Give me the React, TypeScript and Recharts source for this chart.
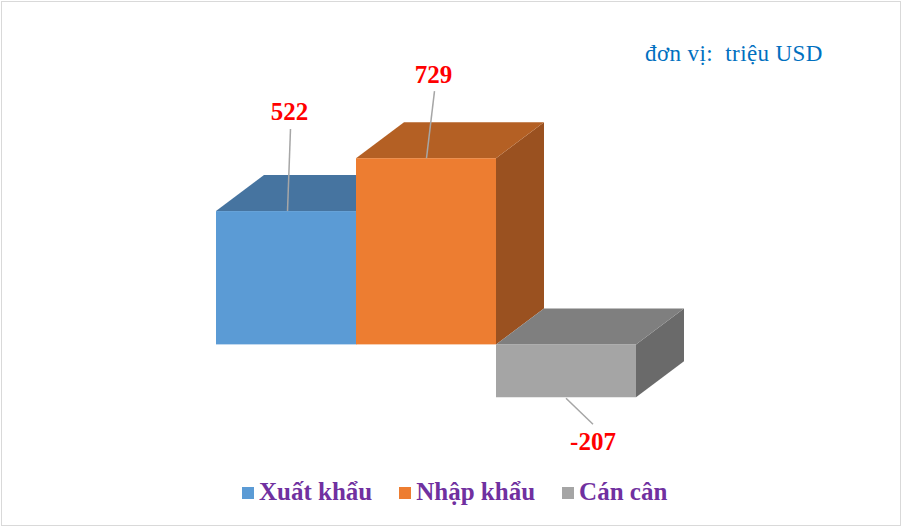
import { Bar, BarChart, LabelList, XAxis, YAxis } from 'recharts'

const CATEGORIES = ['']
const SERIES_KEYS = ['xuat', 'nhap', 'can']
const SERIES_NAMES = ['Xuất khẩu', 'Nhập khẩu', 'Cán cân']
const XUAT_KHAU = [522]
const NHAP_KHAU = [729]
const CAN_CAN = [-207]
const UNIT_TEXT = 'đơn vị:  triệu USD'

const chartData = CATEGORIES.map((c, i) => ({
  name: c,
  xuat: XUAT_KHAU[i],
  nhap: NHAP_KHAU[i],
  can: CAN_CAN[i],
}))

// front / top / side faces
const COLORS = [
  { front: '#5B9BD5', top: '#4674A0', side: '#3F6A93' },
  { front: '#ED7D31', top: '#B46024', side: '#9A5120' },
  { front: '#A5A5A5', top: '#7F7F7F', side: '#6A6A6A' },
]

const DEPTH_X = 48
const DEPTH_Y = 36
const SERIF = '"Liberation Serif", "Times New Roman", serif'

// leader line + label offsets from the bar's front face centre
const LABEL_LAYOUT = [
  { x1: 1.5, y1: 0, x2: 4.5, y2: -82, tx: 3.5, ty: -91 },
  { x1: 0.5, y1: 0, x2: 8.5, y2: -67, tx: 7.5, ty: -75 },
  { x1: 0, y1: 1, x2: 27, y2: 27, tx: 27, ty: 53 },
]

interface ShapeProps {
  x?: number
  y?: number
  width?: number
  height?: number
}

function make3DBar(idx: number) {
  const c = COLORS[idx]
  return function Bar3D(props: ShapeProps) {
    const x = Number(props.x)
    const y = Number(props.y)
    const w = Number(props.width)
    const hRaw = Number(props.height)
    const top = Math.min(y, y + hRaw)
    const h = Math.abs(hRaw)
    const topFace = `${x},${top} ${x + DEPTH_X},${top - DEPTH_Y} ${x + w + DEPTH_X},${top - DEPTH_Y} ${x + w},${top}`
    const sideFace = `${x + w},${top} ${x + w + DEPTH_X},${top - DEPTH_Y} ${x + w + DEPTH_X},${top + h - DEPTH_Y} ${x + w},${top + h}`
    return (
      <g>
        <polygon points={sideFace} fill={c.side} />
        <polygon points={topFace} fill={c.top} />
        <rect x={x} y={top} width={w} height={h} fill={c.front} />
      </g>
    )
  }
}

interface LabelProps {
  x?: number | string
  y?: number | string
  width?: number | string
  height?: number | string
  value?: number | string
}

function makeLabel(idx: number) {
  const l = LABEL_LAYOUT[idx]
  return function BarLabel(props: LabelProps) {
    const x = Number(props.x)
    const y = Number(props.y)
    const w = Number(props.width)
    const h = Number(props.height)
    const v = Number(props.value)
    const cx = x + w / 2
    const ref = v >= 0 ? Math.min(y, y + h) : Math.max(y, y + h)
    return (
      <g>
        <line
          x1={cx + l.x1}
          y1={ref + l.y1}
          x2={cx + l.x2}
          y2={ref + l.y2}
          stroke="#A6A6A6"
          strokeWidth={1.5}
        />
        <text
          x={cx + l.tx}
          y={ref + l.ty}
          textAnchor="middle"
          fill="#FF0000"
          fontFamily={SERIF}
          fontWeight="bold"
          fontSize={25}
        >
          {v}
        </text>
      </g>
    )
  }
}

export default function App() {
  return (
    <div style={{ position: 'absolute', left: 0, top: 0, width: 902, height: 527, background: '#fff' }}>
      <div
        style={{
          position: 'absolute',
          left: 1,
          top: 1,
          width: 900,
          height: 525,
          boxSizing: 'border-box',
          border: '1px solid #D9D9D9',
        }}
      />
      <BarChart
        width={902}
        height={527}
        data={chartData}
        margin={{ top: 89, right: 151, bottom: 106, left: 100 }}
        barGap={0}
        barSize={140}
        style={{ position: 'absolute', left: 0, top: 0 }}
      >
        <XAxis dataKey="name" hide />
        <YAxis hide domain={[-300, 1000]} />
        {SERIES_KEYS.map((k, i) => (
          <Bar
            key={k}
            dataKey={k}
            name={SERIES_NAMES[i]}
            fill={COLORS[i].front}
            shape={make3DBar(i)}
            isAnimationActive={false}
          >
            <LabelList dataKey={k} content={makeLabel(i)} />
          </Bar>
        ))}
      </BarChart>
      <div
        style={{
          position: 'absolute',
          left: 645,
          top: 42,
          fontFamily: SERIF,
          fontSize: 23,
          letterSpacing: 0.4,
          color: '#0070C0',
          whiteSpace: 'pre',
          lineHeight: 1,
        }}
      >
        {UNIT_TEXT}
      </div>
      <div
        style={{
          position: 'absolute',
          left: 242,
          top: 479,
          display: 'flex',
          alignItems: 'center',
          fontFamily: SERIF,
          fontWeight: 'bold',
          fontSize: 25,
          color: '#7030A0',
          lineHeight: 1,
        }}
      >
        {SERIES_NAMES.map((n, i) => (
          <div key={n} style={{ display: 'flex', alignItems: 'center', marginRight: i < 2 ? 27 : 0 }}>
            <span
              style={{
                display: 'inline-block',
                width: 12,
                height: 12,
                background: COLORS[i].front,
                marginRight: 5,
                marginTop: 2,
              }}
            />
            <span>{n}</span>
          </div>
        ))}
      </div>
    </div>
  )
}
